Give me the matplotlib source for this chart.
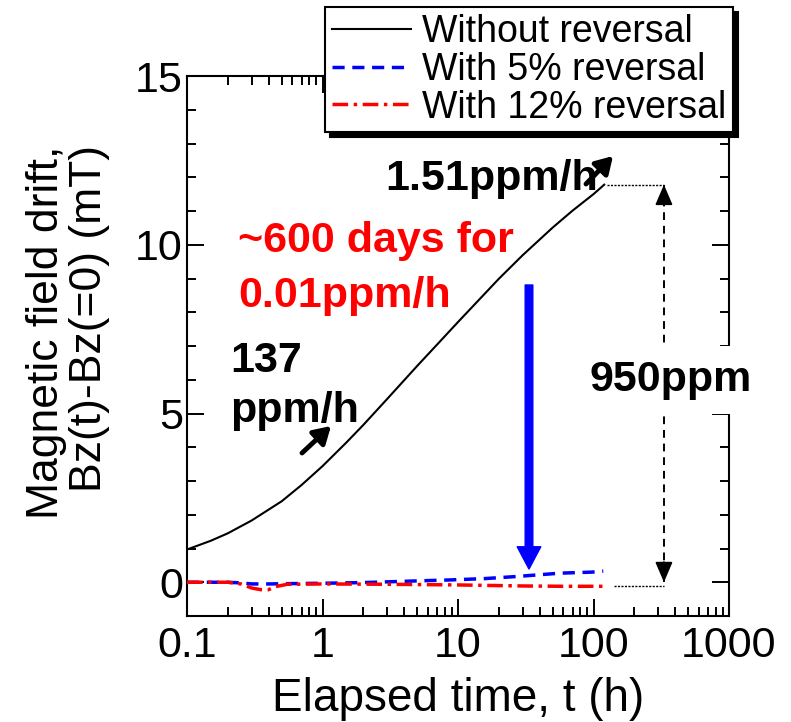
import matplotlib
matplotlib.use('Agg')
import matplotlib.pyplot as plt
from matplotlib.ticker import MultipleLocator, LogLocator, NullFormatter, FixedLocator, FixedFormatter

plt.rcParams['font.family'] = ['Liberation Sans', 'DejaVu Sans']

# ---- data ----
t_black = [0.1, 0.15, 0.2, 0.3, 0.5, 0.7, 1, 1.5, 2, 3, 5, 7, 10, 20, 30, 50, 70, 100, 120]
v_black = [0.97, 1.23, 1.45, 1.83, 2.40, 2.88, 3.44, 4.14, 4.66, 5.43, 6.41, 7.04, 7.71,
           8.99, 9.69, 10.51, 11.01, 11.50, 11.78]

t_blue = [0.1, 0.2, 0.25, 0.3, 0.4, 0.6, 1, 2, 5, 9, 16, 27, 57, 97, 118]
v_blue = [0.0, 0.0, -0.02, -0.05, -0.05, -0.04, -0.03, -0.01, 0.04, 0.07, 0.11, 0.17, 0.27, 0.30, 0.33]

t_red = [0.1, 0.2, 0.25, 0.3, 0.35, 0.4, 0.45, 0.55, 1, 3, 10, 30, 60, 118]
v_red = [0.0, 0.0, -0.05, -0.17, -0.22, -0.22, -0.13, -0.06, -0.05, -0.06, -0.08, -0.11, -0.12, -0.12]

series_labels = ["Without reversal", "With 5% reversal", "With 12% reversal"]
x_ticks = [0.1, 1, 10, 100, 1000]
x_ticklabels = ["0.1", "1", "10", "100", "1000"]
y_ticks = [0, 5, 10, 15]
y_ticklabels = ["0", "5", "10", "15"]

fig = plt.figure(figsize=(7.91, 7.22), dpi=100)
ax = fig.add_axes([187/791, 106/722, (729-187)/791, (616-76)/722])

ax.plot(t_black, v_black, color='black', lw=1.5, label=series_labels[0], zorder=3)
ax.plot(t_blue, v_blue, color='#0000ff', lw=2.5, linestyle=(0, (3.5, 2.2)),
        label=series_labels[1], zorder=3)
ax.plot(t_red, v_red, color='#ff0000', lw=2.5, linestyle=(0, (4.5, 1.6, 1.0, 1.6)),
        label=series_labels[2], zorder=3)

ax.set_xscale('log')
ax.set_xlim(0.1, 1000)
ax.set_ylim(-1, 15)
ax.xaxis.set_major_locator(FixedLocator(x_ticks))
ax.xaxis.set_major_formatter(FixedFormatter(x_ticklabels))
ax.xaxis.set_minor_locator(LogLocator(base=10, subs=range(2, 10)))
ax.xaxis.set_minor_formatter(NullFormatter())
ax.yaxis.set_major_locator(FixedLocator(y_ticks))
ax.yaxis.set_major_formatter(FixedFormatter(y_ticklabels))
ax.yaxis.set_minor_locator(MultipleLocator(1))

ax.tick_params(which='both', direction='in', top=True, right=True, width=1.4,
               color='black', labelsize=31)
ax.tick_params(which='major', length=12)
ax.tick_params(which='minor', length=6.5)
ax.tick_params(axis='y', pad=3)
ax.tick_params(axis='x', pad=7)
for s in ax.spines.values():
    s.set_linewidth(1.5)

ax.set_xlabel("Elapsed time, t (h)", fontsize=33, labelpad=8)
fig.text(68/791, 1 - 332/722, "Magnetic field drift,\nBz(t)-Bz(=0) (mT)", rotation=90,
         ha='center', va='center', multialignment='right', fontsize=32, linespacing=1.05)

# legend
leg = ax.legend(loc='upper right', bbox_to_anchor=(733/791, 715/722), bbox_transform=fig.transFigure,
                fontsize=27, handlelength=2.1, handletextpad=0.3, borderpad=0.18,
                labelspacing=0.05, borderaxespad=0, fancybox=False, framealpha=1,
                edgecolor='black',
                shadow={'ox': 3.5, 'oy': -3.5, 'facecolor': 'black', 'edgecolor': 'black', 'alpha': 1})
leg.get_frame().set_linewidth(1.5)
leg.set_zorder(6)

# annotations (figure pixel positions)
def fp(x, y):
    return (x, 722 - y)

fig.text(598/791, 1 - 190/722, "1.51ppm/h", ha='right', va='baseline', fontsize=31, weight='bold')
ax.annotate('', xy=fp(613, 156), xytext=fp(586, 184), xycoords='figure pixels', textcoords='figure pixels',
            arrowprops=dict(arrowstyle='-|>,head_length=0.5,head_width=0.3', color='black', lw=3.5,
                            shrinkA=0, shrinkB=0, mutation_scale=20))

fig.text(238/791, 1 - 252/722, "~600 days for", ha='left', va='baseline', fontsize=31,
         weight='bold', color='#ff0000')
fig.text(238/791, 1 - 307/722, "0.01ppm/h", ha='left', va='baseline', fontsize=31,
         weight='bold', color='#ff0000')

fig.text(230/791, 1 - 372/722, "137", ha='left', va='baseline', fontsize=31, weight='bold')
fig.text(230/791, 1 - 422/722, "ppm/h", ha='left', va='baseline', fontsize=31, weight='bold')
ax.annotate('', xy=fp(331, 426), xytext=fp(302, 453), xycoords='figure pixels', textcoords='figure pixels',
            arrowprops=dict(arrowstyle='-|>,head_length=0.5,head_width=0.3', color='black', lw=3.5,
                            shrinkA=0, shrinkB=0, mutation_scale=20))

# blue arrow
ax.annotate('', xy=fp(529, 569), xytext=fp(529, 285), xycoords='figure pixels', textcoords='figure pixels',
            arrowprops=dict(color='#0000ff', width=5.5, headwidth=17, headlength=16, shrink=0))

# 950 ppm dimension
x_dim = 331
v_top = v_black[-1]
v_bot = 0.0
ax.plot([t_black[-1] * 1.05, x_dim], [v_top, v_top], color='black', lw=1.0, linestyle=(0, (1.5, 1.0)))
ax.plot([t_red[-1] * 1.2, x_dim], [v_red[-1], v_red[-1]], color='black', lw=1.0, linestyle=(0, (1.5, 1.0)))
ax.plot([x_dim, x_dim], [v_top, v_bot], color='black', lw=1.4, linestyle=(0, (4, 3)))
for y_tip, y_from in [(v_top, v_top - 0.6), (v_bot, v_bot + 0.6)]:
    ax.annotate('', xy=(x_dim, y_tip), xytext=(x_dim, y_from),
                arrowprops=dict(arrowstyle='-|>,head_length=0.7,head_width=0.3', color='black',
                                lw=1.2, shrinkA=0, shrinkB=0, mutation_scale=18))
ax.text(671/791, 1 - 380/722, "950ppm", transform=fig.transFigure, ha='center', va='center',
        fontsize=31, weight='bold', zorder=7,
        bbox=dict(facecolor='white', edgecolor='none', pad=10))

fig.savefig('out.png', dpi=100)
